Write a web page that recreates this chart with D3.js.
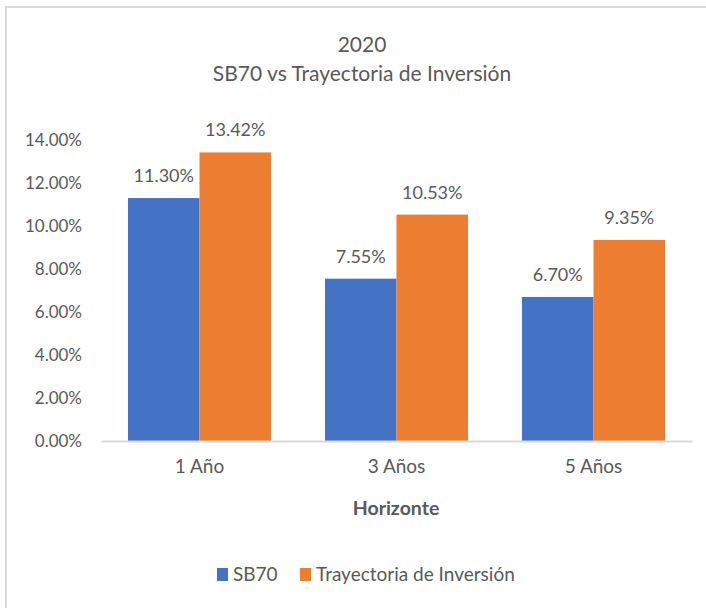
<!DOCTYPE html>
<html>
<head>
<meta charset="utf-8">
<script src="https://cdn.jsdelivr.net/npm/d3@7"></script>
<style>
  body { margin: 0; background: #fff; }
  text { font-family: Lato, "Open Sans", sans-serif; fill: #595959; }
</style>
</head>
<body>
<div id="chart"></div>
<script>
// data
var categories = ["1 Año", "3 Años", "5 Años"];
var seriesNames = ["SB70", "Trayectoria de Inversión"];
var sb70 = [11.30, 7.55, 6.70];
var trayectoria = [13.42, 10.53, 9.35];
var yTicks = [0, 2, 4, 6, 8, 10, 12, 14];
var colors = ["#4472c4", "#ed7d31"];

var W = 706, H = 608;
var margin = {top: 140, right: 14, bottom: 167, left: 101};
var width = W - margin.left - margin.right;
var height = H - margin.top - margin.bottom;

var svg = d3.select("#chart").append("svg")
    .attr("width", W)
    .attr("height", H);

// chart frame (top + left visible)
svg.append("path")
    .attr("d", "M6,612 L6,7 L712,7")
    .attr("fill", "none")
    .attr("stroke", "#d9d9d9")
    .attr("stroke-width", 2);

// titles
svg.append("text")
    .attr("x", 362).attr("y", 52)
    .attr("text-anchor", "middle")
    .style("font-size", "21px")
    .text("2020");
svg.append("text")
    .attr("x", 362).attr("y", 81)
    .attr("text-anchor", "middle")
    .style("font-size", "21px")
    .text("SB70 vs Trayectoria de Inversión");

var g = svg.append("g")
    .attr("transform", "translate(" + margin.left + "," + margin.top + ")");

// scales
var x = d3.scaleBand()
    .domain(categories)
    .range([0, width])
    .paddingInner(0.274)
    .paddingOuter(0.137);

var x1 = d3.scaleBand()
    .domain(seriesNames)
    .range([0, x.bandwidth()]);

var y = d3.scaleLinear()
    .domain([0, 14])
    .range([height, 0]);

// y axis labels
var yAxis = d3.axisLeft(y)
    .tickValues(yTicks)
    .tickSize(0)
    .tickPadding(19)
    .tickFormat(function(d) { return d.toFixed(2) + "%"; });

var yg = g.append("g").call(yAxis);
yg.select(".domain").remove();
yg.selectAll("text")
    .style("font-size", "17px")
    .style("font-family", "Lato, sans-serif")
    .attr("fill", "#595959");

// bars
var rows = categories.map(function(c, i) {
    return {cat: c, values: [sb70[i], trayectoria[i]]};
});

var groups = g.selectAll(".grp")
    .data(rows)
    .enter().append("g")
    .attr("class", "grp")
    .attr("transform", function(d) { return "translate(" + x(d.cat) + ",0)"; });

groups.selectAll("rect")
    .data(function(d) { return d.values.map(function(v, j) { return {name: seriesNames[j], value: v, j: j}; }); })
    .enter().append("rect")
    .attr("x", function(d) { return x1(d.name); })
    .attr("y", function(d) { return y(d.value); })
    .attr("width", x1.bandwidth())
    .attr("height", function(d) { return height - y(d.value); })
    .attr("fill", function(d) { return colors[d.j]; });

groups.selectAll(".lbl")
    .data(function(d) { return d.values.map(function(v, j) { return {name: seriesNames[j], value: v}; }); })
    .enter().append("text")
    .attr("class", "lbl")
    .attr("x", function(d) { return x1(d.name) + x1.bandwidth() / 2; })
    .attr("y", function(d) { return y(d.value) - 16; })
    .attr("text-anchor", "middle")
    .style("font-size", "18px")
    .text(function(d) { return d.value.toFixed(2) + "%"; });

// x axis
var xAxis = d3.axisBottom(x).tickSize(0).tickPadding(19);
var xg = g.append("g")
    .attr("transform", "translate(0," + height + ")")
    .call(xAxis);
xg.select(".domain")
    .attr("stroke", "#d9d9d9")
    .attr("stroke-width", 2);
xg.selectAll("text")
    .style("font-size", "19px")
    .style("font-family", "Lato, sans-serif")
    .attr("fill", "#595959");

// axis title
svg.append("text")
    .attr("x", 396).attr("y", 515)
    .attr("text-anchor", "middle")
    .style("font-size", "19.5px")
    .style("font-weight", "bold")
    .text("Horizonte");

// legend
var legendX = [217, 300];
var legend = svg.selectAll(".leg")
    .data(seriesNames)
    .enter().append("g")
    .attr("class", "leg")
    .attr("transform", function(d, i) { return "translate(" + legendX[i] + ",568)"; });
legend.append("rect")
    .attr("width", 11).attr("height", 13)
    .attr("fill", function(d, i) { return colors[i]; });
legend.append("text")
    .attr("x", 16).attr("y", 13)
    .style("font-size", "19px")
    .text(function(d) { return d; });
</script>
</body>
</html>
